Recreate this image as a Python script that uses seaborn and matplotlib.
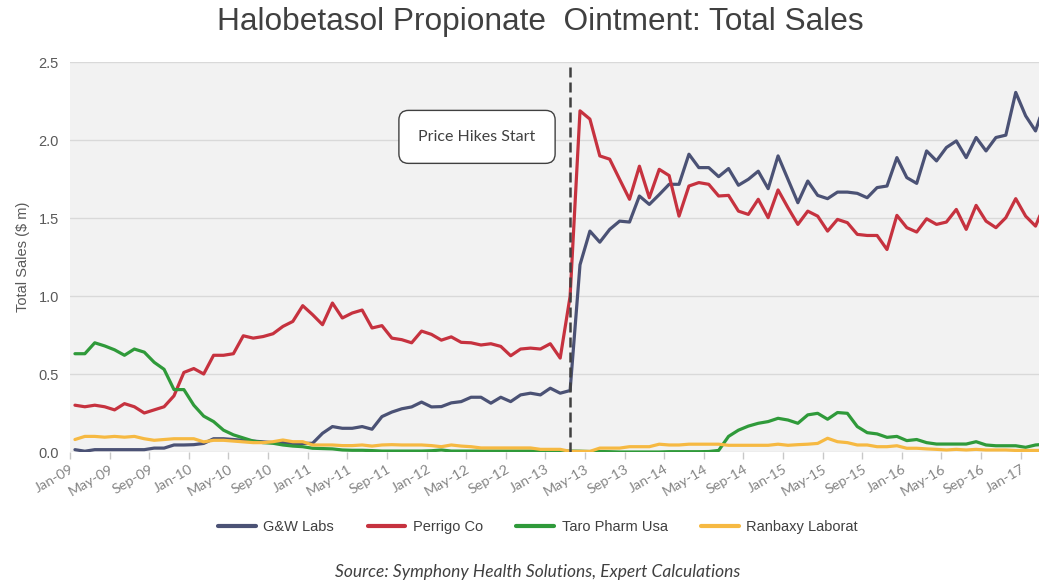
import numpy as np
import pandas as pd
import matplotlib
matplotlib.use("Agg")
import matplotlib.pyplot as plt
import seaborn as sns
from matplotlib.lines import Line2D

# ---------------- data (monthly, Jan-09 .. Mar-17) ----------------
gw_labs = [0.015,0.005,0.015,0.015,0.015,0.015,0.015,0.015,0.025,0.025,0.045,0.045,0.047,0.055,0.085,0.085,0.08,0.075,0.07,
           0.065,0.06,0.06,0.055,0.055,0.056,0.12,0.163,
           0.152,0.152,0.163,0.146,0.227,0.256,0.277,0.289,0.32,0.289,0.291,0.315,
           0.323,0.351,0.351,0.313,0.351,0.323,0.366,0.377,0.366,0.409,0.377,0.394,
           1.20,1.416,1.345,1.427,1.48,1.474,1.641,1.587,1.65,1.716,1.716,1.909,
           1.823,1.823,1.765,1.817,1.71,1.748,1.80,1.688,1.898,1.748,1.598,1.737,1.645,1.624,1.666,
           1.666,1.658,1.63,1.695,1.705,1.887,1.759,1.722,1.93,1.866,1.952,1.994,1.887,2.016,1.93,2.016,2.031,2.305,2.155,2.058,2.25]
perrigo = [0.30,0.29,0.30,0.29,0.27,0.31,0.29,0.25,0.27,0.29,0.36,0.51,0.535,0.50,0.62,0.62,0.63,0.745,0.73,
           0.74,0.758,0.805,0.837,0.938,0.88,0.816,0.955,
           0.859,0.891,0.91,0.795,0.81,0.73,0.72,0.70,0.775,0.754,0.717,0.738,
           0.703,0.70,0.686,0.694,0.677,0.617,0.66,0.666,0.66,0.694,0.602,0.998,
           2.187,2.134,1.898,1.877,1.748,1.62,1.832,1.63,1.812,1.772,1.512,1.705,
           1.727,1.716,1.641,1.645,1.544,1.523,1.62,1.502,1.68,1.566,1.459,1.544,1.512,1.416,1.491,
           1.47,1.395,1.388,1.388,1.298,1.517,1.438,1.41,1.495,1.459,1.474,1.555,1.427,1.581,1.48,1.438,1.502,1.624,1.512,1.448,1.60]
taro = [0.63,0.63,0.70,0.68,0.655,0.62,0.66,0.64,0.575,0.53,0.40,0.40,0.30,0.23,0.195,0.14,0.11,0.09,0.07,
        0.06,0.056,0.045,0.038,0.034,0.024,0.022,0.02,
        0.013,0.011,0.011,0.009,0.006,0.006,0.006,0.006,0.006,0.008,0.013,0.006,
        0.006,0.006,0.006,0.006,0.006,0.006,0.006,0.006,0.006,0.006,0.006,0.006,
        0.005,0.003,0.003,0.002,0.0,0.0,0.0,0.0,0.0,0.002,0.002,0.002,
        0.002,0.003,0.01,0.10,0.14,0.166,0.184,0.195,0.216,0.205,0.184,0.238,0.248,0.21,0.253,
        0.248,0.163,0.124,0.116,0.094,0.10,0.073,0.08,0.06,0.051,0.051,0.051,0.051,0.066,0.045,0.04,0.04,0.04,0.03,0.045,0.05]
ranbaxy = [0.08,0.10,0.10,0.095,0.10,0.095,0.10,0.085,0.075,0.08,0.085,0.085,0.085,0.065,0.075,0.075,0.07,0.065,0.06,
           0.06,0.066,0.077,0.066,0.066,0.045,0.045,0.045,
           0.041,0.041,0.045,0.038,0.045,0.047,0.045,0.045,0.045,0.041,0.034,0.045,
           0.038,0.034,0.026,0.026,0.026,0.026,0.026,0.026,0.017,0.017,0.017,0.004,
           0.004,0.004,0.025,0.025,0.025,0.034,0.034,0.034,0.05,0.045,0.045,0.05,
           0.05,0.05,0.05,0.043,0.043,0.043,0.043,0.043,0.05,0.043,0.047,0.05,0.055,0.088,0.066,
           0.06,0.045,0.045,0.034,0.034,0.04,0.024,0.024,0.02,0.017,0.013,0.017,0.013,0.017,0.013,0.013,0.013,0.01,0.01,0.01,0.01]

series_names = ["G&W Labs", "Perrigo Co", "Taro Pharm Usa", "Ranbaxy Laborat"]
tick_labels = ["Jan-09","May-09","Sep-09","Jan-10","May-10","Sep-10","Jan-11","May-11","Sep-11",
               "Jan-12","May-12","Sep-12","Jan-13","May-13","Sep-13","Jan-14","May-14","Sep-14",
               "Jan-15","May-15","Sep-15","Jan-16","May-16","Sep-16","Jan-17"]
y_ticks = [0.0, 0.5, 1.0, 1.5, 2.0, 2.5]
y_tick_labels = ["0.0", "0.5", "1.0", "1.5", "2.0", "2.5"]
price_hike_month = 50  # Mar-13

colors = {"G&W Labs": "#4b5275", "Perrigo Co": "#c6323f",
          "Taro Pharm Usa": "#2f9a3a", "Ranbaxy Laborat": "#f6b942"}

months = np.arange(len(gw_labs))
df = pd.concat([
    pd.DataFrame({"month": months, "sales": vals, "company": name})
    for name, vals in zip(series_names, [gw_labs, perrigo, taro, ranbaxy])
])

# ---------------- plot ----------------
sns.set_theme(style="white")
fig = plt.figure(figsize=(10.39, 5.81), dpi=100)
ax = fig.add_axes([70/1039, (581-452)/581, (1039-70)/1039, (452-62)/581])
ax.set_facecolor("#f2f2f2")

sns.lineplot(data=df, x="month", y="sales", hue="company", palette=colors,
             hue_order=series_names, linewidth=2.3, ax=ax, legend=False, zorder=3)

ax.set_ylim(0, 2.5)
ax.set_xlim(-0.5, 97.35)
ax.set_yticks(y_ticks)
ax.set_yticklabels(y_tick_labels, family="Liberation Sans", fontsize=10.5, color="#595959")
ax.yaxis.grid(True, color="#d9d9d9", linewidth=1.0, zorder=0)
ax.xaxis.grid(False)
for s in ax.spines.values():
    s.set_visible(False)

xt = [-0.5 + 4 * k for k in range(len(tick_labels))]
ax.set_xticks(xt)
ax.set_xticklabels(tick_labels, rotation=30, ha="right", va="top",
                   rotation_mode="anchor", family="Lato", fontsize=10.3, color="#858585")
ax.tick_params(axis="x", length=5, width=1, color="#c8c8c8", direction="out", pad=3, bottom=True)
ax.tick_params(axis="y", length=0, pad=8)
ax.set_xlabel("")
ax.set_ylabel("Total Sales ($ m)", family="Liberation Sans", fontsize=10.5, color="#595959", labelpad=6)

# price hike marker
ax.axvline(price_hike_month, ymin=0, ymax=0.995, color="#404040", linewidth=1.8,
           linestyle=(0, (4, 2)), zorder=4)
ax.text(40.6, 2.02, "Price Hikes Start", ha="center", va="center", family="Lato",
        fontsize=11.5, color="#404040", zorder=5,
        bbox=dict(boxstyle="round,pad=1.22,rounding_size=0.6", facecolor="white",
                  edgecolor="#404040", linewidth=1.0))

# title
fig.text(540/1039, 1 - 22/581, "Halobetasol Propionate  Ointment: Total Sales",
         ha="center", va="center", family="Liberation Sans", fontsize=22.8, color="#404040")

# legend
handles = [Line2D([0], [0], color=colors[n], linewidth=3) for n in series_names]
fig.legend(handles, series_names, loc="center", bbox_to_anchor=(538/1039, 1 - 527/581),
           ncol=4, frameon=False, handlelength=2.6, columnspacing=2.3, handletextpad=0.5,
           prop={"family": "Liberation Sans", "size": 10.5}, labelcolor="#404040")

# source
fig.text(538/1039, 1 - 572/581, "Source: Symphony Health Solutions, Expert Calculations",
         ha="center", va="center", family="Lato", style="italic", fontsize=12.5, color="#404040")

fig.savefig("out.png", dpi=100)
